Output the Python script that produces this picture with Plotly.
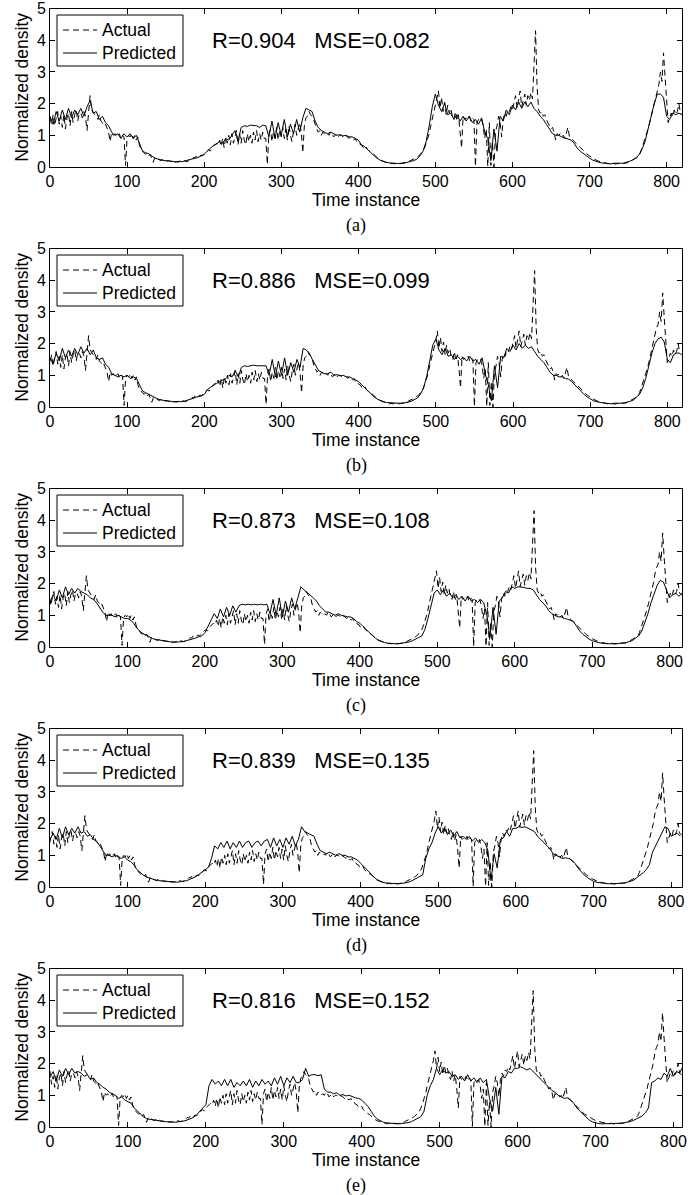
import numpy as np
import plotly.graph_objects as go

# actual density, one value every 2 time steps (time axis of panel (a))
actual = [
    1.55, 1.35, 1.65, 1.3, 1.55, 1.75, 1.35, 1.6, 1.25, 1.65,
    1.2, 1.55, 1.7, 1.3, 1.75, 1.4, 1.65, 1.8, 1.45, 1.7,
    1.7, 1.55, 1.75, 1.6, 1.15, 1.6, 2.25, 1.8, 1.7, 1.65,
    1.6, 1.5, 1.65, 1.45, 1.4, 1.3, 1.35, 1.2, 1.1, 0.8,
    1.1, 1.0, 1.05, 0.95, 1.0, 1.05, 0.9, 1.0, 0.95, 0.05,
    0.9, 1.0, 0.95, 1.05, 0.9, 1.0, 0.85, 0.95, 0.7, 0.55,
    0.5, 0.45, 0.4, 0.45, 0.35, 0.4, 0.3, 0.15, 0.3, 0.25,
    0.25, 0.22, 0.2, 0.25, 0.2, 0.22, 0.18, 0.2, 0.17, 0.2,
    0.18, 0.15, 0.17, 0.15, 0.18, 0.15, 0.17, 0.2, 0.18, 0.17,
    0.2, 0.22, 0.25, 0.3, 0.28, 0.35, 0.3, 0.33, 0.38, 0.35,
    0.4, 0.45, 0.5, 0.55, 0.5, 0.6, 0.65, 0.7, 0.75, 0.7,
    0.85, 0.65, 0.9, 0.6, 0.95, 0.75, 1.0, 0.7, 1.05, 0.75,
    0.95, 1.15, 0.7, 1.05, 0.75, 1.15, 0.85, 0.7, 1.05, 0.8,
    1.0, 0.75, 1.1, 0.85, 1.15, 0.8, 1.05, 0.85, 1.1, 0.9,
    0.9, 0.08, 1.05, 1.2, 0.8, 1.1, 0.9, 1.25, 0.85, 1.15,
    0.95, 1.25, 0.9, 1.2, 0.85, 1.3, 1.0, 0.8, 1.15, 1.35,
    1.0, 1.2, 1.4, 1.1, 0.45, 1.3, 1.55, 1.6, 1.75, 1.65,
    1.6, 1.5, 1.3, 1.2, 1.1, 1.15, 1.0, 1.1, 1.05, 1.0,
    1.05, 1.0, 1.1, 1.05, 0.95, 1.0, 1.05, 0.95, 1.0, 1.0,
    0.95, 1.0, 0.98, 0.95, 0.9, 0.95, 0.88, 0.85, 0.9, 0.8,
    0.8, 0.72, 0.7, 0.62, 0.6, 0.65, 0.55, 0.5, 0.48, 0.42,
    0.4, 0.35, 0.3, 0.25, 0.22, 0.2, 0.18, 0.15, 0.14, 0.13,
    0.12, 0.1, 0.12, 0.1, 0.11, 0.09, 0.12, 0.1, 0.11, 0.12,
    0.13, 0.15, 0.14, 0.18, 0.2, 0.22, 0.25, 0.28, 0.3, 0.35,
    0.38, 0.45, 0.5, 0.6, 0.75, 0.9, 1.05, 1.3, 1.5, 1.7,
    1.9, 2.1, 2.4, 1.85, 2.2, 1.75, 2.05, 1.65, 1.95, 1.7,
    1.85, 1.6, 1.5, 1.75, 1.45, 1.65, 1.2, 0.6, 1.6, 1.5,
    1.55, 1.5, 1.6, 1.45, 1.55, 1.5, 0.02, 1.4, 1.5, 1.45,
    1.5, 1.3, 0.9, 1.2, 0.02, 1.4, 0.05, 0.8, 0.0, 1.1,
    1.3, 1.6, 1.4, 0.95, 1.5, 1.7, 1.6, 1.8, 1.75, 1.9,
    1.8, 2.05, 2.25, 1.85, 2.1, 2.4, 1.9, 2.15, 2.3, 1.95,
    2.25, 2.1, 2.35, 2.15, 3.3, 4.3, 2.5, 1.8, 1.7, 1.75,
    1.6, 1.65, 1.5, 1.4, 1.35, 1.2, 1.25, 1.1, 0.85, 1.05,
    1.0, 1.05, 0.95, 1.0, 0.9, 1.05, 1.25, 0.95, 0.9, 0.85,
    0.8, 0.75, 0.7, 0.65, 0.6, 0.55, 0.5, 0.45, 0.4, 0.38,
    0.35, 0.3, 0.28, 0.25, 0.22, 0.2, 0.18, 0.17, 0.15, 0.14,
    0.13, 0.12, 0.1, 0.11, 0.1, 0.12, 0.1, 0.09, 0.11, 0.1,
    0.1, 0.12, 0.11, 0.13, 0.12, 0.15, 0.18, 0.2, 0.22, 0.25,
    0.28, 0.3, 0.35, 0.45, 0.6, 0.7, 0.9, 1.0, 1.2, 1.4,
    1.6, 1.8, 2.0, 2.3, 2.5, 2.6, 3.0, 2.7, 3.6, 2.8,
    2.2, 1.4, 1.55, 1.7, 1.6, 1.8, 1.65, 1.75, 2.0, 1.7,
    1.65, 1.7, 1.75, 1.6, 1.7,
]

# predicted density per panel, one value every 4 time steps
pred_a = [
    1.6, 1.35, 1.75, 1.45, 1.8, 1.5, 1.85, 1.55, 1.8, 1.65,
    1.85, 1.6, 1.9, 2.1, 1.7, 1.75, 1.5, 1.6, 1.4, 1.3,
    1.1, 1.0, 1.05, 0.9, 1.05, 0.95, 1.05, 0.9, 1.0, 0.75,
    0.5, 0.45, 0.42, 0.35, 0.28, 0.25, 0.22, 0.2, 0.2, 0.18,
    0.17, 0.16, 0.18, 0.17, 0.2, 0.22, 0.25, 0.28, 0.3, 0.35,
    0.4, 0.5, 0.6, 0.68, 0.72, 0.8, 0.75, 0.9, 0.85, 1.0,
    1.15, 0.8, 1.25, 1.3, 1.28, 1.32, 1.3, 1.3, 1.25, 1.32,
    1.3, 0.95, 1.45, 0.9, 1.4, 1.0, 1.5, 0.95, 1.35, 1.05,
    1.5, 1.1, 1.55, 1.85, 1.8, 1.75, 1.45, 1.25, 1.15, 1.1,
    1.05, 1.1, 1.05, 1.0, 1.02, 0.98, 1.0, 0.95, 0.95, 0.9,
    0.85, 0.7, 0.65, 0.55, 0.45, 0.35, 0.28, 0.22, 0.18, 0.15,
    0.13, 0.12, 0.12, 0.11, 0.12, 0.13, 0.15, 0.18, 0.2, 0.25,
    0.35, 0.5, 0.8, 1.3, 1.9, 2.3, 1.95, 1.75, 2.0, 1.65,
    1.7, 1.5, 1.65, 1.45, 1.6, 1.45, 1.6, 1.4, 1.5, 1.35,
    1.55, 1.1, 0.9, 0.2, 1.2, 0.5, 1.6, 1.45, 1.8, 1.65,
    1.95, 1.8, 2.05, 1.85, 2.05, 1.9, 2.05, 1.85, 1.75, 1.6,
    1.5, 1.35, 1.2, 1.05, 1.0, 1.0, 0.95, 0.92, 0.9, 0.85,
    0.75, 0.6, 0.5, 0.42, 0.35, 0.28, 0.22, 0.18, 0.15, 0.13,
    0.12, 0.11, 0.1, 0.12, 0.11, 0.12, 0.12, 0.14, 0.18, 0.22,
    0.28, 0.38, 0.55, 0.8, 1.2, 1.6, 2.0, 2.3, 2.3, 2.2,
    1.6, 1.5, 1.7, 1.65, 1.7, 1.65,
]
pred_b = [
    1.55, 1.35, 1.7, 1.45, 1.85, 1.55, 1.8, 1.6, 1.85, 1.65,
    1.9, 1.7, 1.85, 1.65, 1.8, 1.55, 1.5, 1.55, 1.35, 1.25,
    1.05, 1.0, 0.95, 1.0, 0.95, 1.0, 0.9, 0.95, 0.9, 0.7,
    0.5, 0.45, 0.4, 0.33, 0.28, 0.25, 0.22, 0.2, 0.2, 0.18,
    0.17, 0.17, 0.18, 0.17, 0.2, 0.22, 0.26, 0.3, 0.32, 0.35,
    0.4, 0.55, 0.62, 0.7, 0.75, 0.8, 0.85, 0.9, 1.0, 0.95,
    1.15, 0.95, 1.25, 1.3, 1.28, 1.3, 1.32, 1.3, 1.3, 1.3,
    1.3, 1.0, 1.5, 0.95, 1.45, 1.0, 1.55, 1.0, 1.4, 1.1,
    1.5, 1.25, 1.85, 1.8, 1.7, 1.5, 1.3, 1.15, 1.1, 1.05,
    1.05, 1.1, 1.0, 1.02, 0.98, 1.0, 0.95, 0.95, 0.9, 0.85,
    0.8, 0.7, 0.6, 0.5, 0.42, 0.32, 0.25, 0.2, 0.17, 0.14,
    0.13, 0.12, 0.11, 0.12, 0.12, 0.13, 0.15, 0.18, 0.22, 0.28,
    0.4, 0.6, 0.95, 1.4, 1.95, 2.15, 1.8, 1.65, 1.85, 1.6,
    1.65, 1.5, 1.6, 1.5, 1.55, 1.45, 1.6, 1.45, 1.5, 1.35,
    1.55, 1.05, 0.7, 0.2, 1.3, 0.6, 1.6, 1.55, 1.85, 1.75,
    1.95, 1.8, 2.0, 1.85, 1.95, 1.85, 1.9, 1.75, 1.6, 1.5,
    1.4, 1.25, 1.1, 1.0, 1.0, 0.95, 0.95, 0.9, 0.88, 0.8,
    0.7, 0.58, 0.48, 0.4, 0.32, 0.26, 0.2, 0.17, 0.14, 0.13,
    0.12, 0.11, 0.1, 0.12, 0.11, 0.12, 0.13, 0.15, 0.18, 0.22,
    0.3, 0.4, 0.6, 0.9, 1.3, 1.7, 2.0, 2.15, 2.2, 2.05,
    1.5, 1.4, 1.65, 1.7, 1.7,
]
pred_c = [
    1.4, 1.65, 1.45, 1.8, 1.55, 1.9, 1.65, 1.85, 1.7, 1.85,
    1.75, 1.7, 1.65, 1.55, 1.5, 1.4, 1.25, 1.1, 1.0, 1.0,
    1.0, 0.95, 1.0, 0.95, 0.9, 0.9, 0.85, 0.75, 0.6, 0.5,
    0.42, 0.38, 0.32, 0.27, 0.24, 0.22, 0.2, 0.18, 0.17, 0.16,
    0.15, 0.15, 0.16, 0.17, 0.2, 0.22, 0.25, 0.28, 0.32, 0.35,
    0.45, 0.65, 0.9, 1.05, 0.9, 1.2, 0.95, 1.25, 1.0, 1.3,
    1.1, 1.3, 1.35, 1.33, 1.35, 1.33, 1.35, 1.33, 1.35, 1.33,
    1.35, 1.05, 1.5, 1.0, 1.55, 0.95, 1.45, 1.1, 1.55, 1.2,
    1.55, 1.9, 1.8, 1.72, 1.65, 1.55, 1.45, 1.3, 1.2, 1.1,
    1.1, 1.05, 1.0, 1.05, 1.0, 0.98, 0.95, 0.95, 0.9, 0.8,
    0.75, 0.65, 0.55, 0.45, 0.35, 0.28, 0.22, 0.17, 0.14, 0.12,
    0.11, 0.1, 0.1, 0.11, 0.12, 0.13, 0.16, 0.2, 0.24, 0.3,
    0.35, 0.55, 0.9, 1.3, 1.7, 1.8, 1.65, 1.8, 1.6, 1.7,
    1.55, 1.65, 1.5, 1.6, 1.45, 1.6, 1.45, 1.5, 1.4, 1.5,
    1.4, 1.0, 0.3, 1.25, 0.4, 1.45, 1.55, 1.75, 1.7, 1.9,
    1.85, 1.9, 1.9, 1.88, 1.85, 1.85, 1.8, 1.65, 1.5, 1.4,
    1.3, 1.15, 1.05, 1.0, 0.95, 0.95, 0.9, 0.88, 0.85, 0.8,
    0.65, 0.5, 0.4, 0.32, 0.25, 0.2, 0.16, 0.14, 0.12, 0.11,
    0.1, 0.1, 0.11, 0.1, 0.12, 0.12, 0.14, 0.17, 0.2, 0.28,
    0.35, 0.5, 0.75, 1.05, 1.4, 1.7, 1.95, 2.1, 2.05, 1.8,
    1.55, 1.65, 1.7, 1.6, 1.7,
]
pred_d = [
    1.5, 1.7, 1.5, 1.85, 1.55, 1.9, 1.65, 1.85, 1.7, 1.9,
    1.7, 1.75, 1.6, 1.65, 1.5, 1.45, 1.3, 1.15, 1.0, 1.0,
    0.95, 1.0, 0.95, 0.9, 0.95, 0.85, 0.8, 0.7, 0.55, 0.45,
    0.38, 0.32, 0.28, 0.25, 0.22, 0.2, 0.19, 0.18, 0.17, 0.16,
    0.16, 0.15, 0.17, 0.18, 0.2, 0.24, 0.28, 0.33, 0.4, 0.48,
    0.55, 0.62, 0.9, 1.3, 1.2, 1.4, 1.25, 1.45, 1.2, 1.4,
    1.25, 1.45, 1.25, 1.4, 1.45, 1.25, 1.4, 1.45, 1.3, 1.45,
    1.5, 1.25, 1.55, 1.3, 1.5, 1.25, 1.55, 1.35, 1.6, 1.3,
    1.5, 1.9, 1.75, 1.7, 1.65, 1.6, 1.35, 1.15, 1.1, 1.05,
    1.1, 1.05, 1.0, 1.05, 1.0, 1.0, 0.95, 0.95, 0.9, 0.85,
    0.75, 0.65, 0.55, 0.45, 0.35, 0.25, 0.2, 0.15, 0.13, 0.12,
    0.11, 0.1, 0.1, 0.11, 0.12, 0.14, 0.17, 0.22, 0.28, 0.33,
    0.38, 0.9, 1.2, 1.4, 1.7, 1.9, 1.7, 1.85, 1.65, 1.8,
    1.6, 1.75, 1.55, 1.6, 1.5, 1.6, 1.45, 1.55, 1.4, 1.5,
    1.4, 1.15, 0.2, 1.05, 0.6, 1.5, 1.55, 1.75, 1.6, 1.85,
    1.85, 1.9, 1.88, 1.9, 1.85, 1.8, 1.75, 1.6, 1.5, 1.4,
    1.3, 1.2, 1.05, 1.0, 0.95, 0.9, 0.92, 0.9, 0.85, 0.75,
    0.6, 0.48, 0.38, 0.3, 0.24, 0.18, 0.15, 0.13, 0.12, 0.11,
    0.1, 0.1, 0.11, 0.11, 0.12, 0.13, 0.15, 0.18, 0.22, 0.3,
    0.35, 0.45, 0.55, 0.7, 1.1, 1.3, 1.5, 1.7, 1.9, 1.85,
    1.6, 1.65, 1.7, 1.6,
]
pred_e = [
    1.55, 1.75, 1.45, 1.8, 1.6, 1.85, 1.65, 1.85, 1.7, 1.75,
    1.7, 1.6, 1.65, 1.5, 1.55, 1.4, 1.35, 1.25, 1.2, 1.1,
    1.05, 1.0, 0.9, 0.95, 0.85, 0.8, 0.75, 0.6, 0.5, 0.4,
    0.32, 0.26, 0.24, 0.22, 0.2, 0.19, 0.18, 0.17, 0.16, 0.16,
    0.15, 0.16, 0.17, 0.19, 0.22, 0.26, 0.3, 0.38, 0.5, 0.6,
    0.7, 1.3, 1.5, 1.35, 1.45, 1.3, 1.5, 1.3, 1.5, 1.25,
    1.4, 1.3, 1.45, 1.3, 1.5, 1.25, 1.45, 1.3, 1.5, 1.35,
    1.45, 1.3, 1.55, 1.35, 1.6, 1.3, 1.55, 1.4, 1.6, 1.4,
    1.4, 1.5, 1.85, 1.6, 1.65, 1.65, 1.62, 1.65, 1.2, 1.1,
    1.1, 1.05, 1.08, 1.0, 1.02, 0.98, 1.0, 0.95, 0.92, 0.9,
    0.85, 0.75, 0.65, 0.5, 0.35, 0.25, 0.2, 0.15, 0.13, 0.12,
    0.11, 0.1, 0.1, 0.11, 0.12, 0.14, 0.17, 0.22, 0.28, 0.33,
    0.5, 1.0, 1.3, 1.5, 1.85, 1.65, 1.8, 1.7, 1.75, 1.6,
    1.65, 1.5, 1.6, 1.45, 1.65, 1.45, 1.55, 1.4, 1.55, 1.4,
    1.5, 0.9, 0.5, 1.25, 0.4, 1.6, 1.55, 1.75, 1.7, 1.85,
    1.85, 1.9, 1.85, 1.8, 1.85, 1.75, 1.65, 1.55, 1.45, 1.35,
    1.25, 1.15, 1.1, 1.0, 0.95, 0.9, 0.92, 0.85, 0.75, 0.6,
    0.5, 0.4, 0.3, 0.22, 0.16, 0.13, 0.11, 0.1, 0.1, 0.1,
    0.1, 0.11, 0.1, 0.12, 0.13, 0.14, 0.17, 0.2, 0.25, 0.3,
    0.35, 0.45, 0.6, 1.4, 1.45, 1.55, 1.5, 1.7, 1.6, 1.85,
    1.6, 1.75, 1.7, 1.9,
]

predicted = [pred_a, pred_b, pred_c, pred_d, pred_e]
offsets = [0, 2, 5, 7, 10]           # start of each panel on the actual series
x_max = [820, 819, 816, 814, 811]
r_vals = ["0.904", "0.886", "0.873", "0.839", "0.816"]
mse_vals = ["0.082", "0.099", "0.108", "0.135", "0.152"]
captions = ["(a)", "(b)", "(c)", "(d)", "(e)"]
series_names = ["Actual", "Predicted"]
dash_styles = ["6px,4px", "solid"]

W, H = 700, 1195
left_px, right_px = 50, 682
sans = "Liberation Sans, Arial, sans-serif"


def px_x(v):
    return v / W


def px_y(v):
    return 1 - v / H


fig = go.Figure()
annotations = []
shapes = []

for i in range(5):
    n = i + 1
    xa = "x" if n == 1 else "x%d" % n
    ya = "y" if n == 1 else "y%d" % n

    t_act = np.arange(len(actual)) * 2 - offsets[i]
    t_pred = np.arange(len(predicted[i])) * 4

    fig.add_trace(go.Scatter(x=t_act, y=actual, mode="lines", name=series_names[0],
                             line=dict(color="black", width=1, dash=dash_styles[0]),
                             xaxis=xa, yaxis=ya, showlegend=False))
    fig.add_trace(go.Scatter(x=t_pred, y=predicted[i], mode="lines", name=series_names[1],
                             line=dict(color="black", width=1, dash=dash_styles[1]),
                             xaxis=xa, yaxis=ya, showlegend=False))

    bottom = 167 + 240 * i
    top = bottom - 158.5

    axis_common = dict(showline=True, linecolor="black", linewidth=1, mirror="allticks",
                       ticks="inside", ticklen=5, tickcolor="black", showgrid=False,
                       zeroline=False, tickfont=dict(family=sans, size=16, color="black"))
    fig.layout["xaxis" if n == 1 else "xaxis%d" % n] = dict(
        domain=[px_x(left_px), px_x(right_px)], range=[0, x_max[i]],
        tickvals=list(range(0, 801, 100)), anchor=ya, **axis_common)
    fig.layout["yaxis" if n == 1 else "yaxis%d" % n] = dict(
        domain=[px_y(bottom), px_y(top)], range=[0, 5], tickvals=[0, 1, 2, 3, 4, 5],
        anchor=xa, **axis_common)

    # legend box drawn in the upper left corner, MATLAB style
    shapes.append(dict(type="rect", xref="paper", yref="paper",
                       x0=px_x(57), x1=px_x(183), y0=px_y(top + 57.5), y1=px_y(top + 6.5),
                       line=dict(color="black", width=1), fillcolor="white", layer="above"))
    for k in range(2):
        row_y = top + 21.5 + 23 * k
        shapes.append(dict(type="line", xref="paper", yref="paper",
                           x0=px_x(63), x1=px_x(97), y0=px_y(row_y), y1=px_y(row_y),
                           line=dict(color="black", width=1, dash=dash_styles[k]),
                           layer="above"))
        annotations.append(dict(text=series_names[k], x=px_x(100), y=px_y(row_y),
                                xref="paper", yref="paper", xanchor="left",
                                yanchor="middle", showarrow=False,
                                font=dict(family=sans, size=17.5, color="black")))

    annotations.append(dict(text="R=%s   MSE=%s" % (r_vals[i], mse_vals[i]),
                            x=px_x(210), y=px_y(top + 32),
                            xref="paper", yref="paper",
                            xanchor="left", yanchor="middle", showarrow=False,
                            font=dict(family=sans, size=22, color="black")))
    annotations.append(dict(text="Time instance", x=px_x((left_px + right_px) / 2),
                            y=px_y(bottom + 33), xref="paper", yref="paper",
                            xanchor="center", yanchor="middle", showarrow=False,
                            font=dict(family=sans, size=17.5, color="black")))
    annotations.append(dict(text="Normalized density", x=px_x(22),
                            y=px_y((top + bottom) / 2),
                            xref="paper", yref="paper", textangle=-90,
                            xanchor="center", yanchor="middle", showarrow=False,
                            font=dict(family=sans, size=17.5, color="black")))
    annotations.append(dict(text=captions[i], x=px_x(356), y=px_y(bottom + 58.5),
                            xref="paper", yref="paper", xanchor="center", yanchor="middle",
                            showarrow=False,
                            font=dict(family="Liberation Serif, Times New Roman, serif",
                                      size=18, color="black")))

fig.update_layout(width=W, height=H, margin=dict(l=0, r=0, t=0, b=0, autoexpand=False),
                  paper_bgcolor="white", plot_bgcolor="white", showlegend=False,
                  annotations=annotations, shapes=shapes)

# drop the browser's default 8px page margin so the figure sits at the corner
fig.write_html("out.html", config={"displayModeBar": False},
               post_script="document.body.style.margin='0px';"
                           "document.documentElement.style.overflow='hidden';")
